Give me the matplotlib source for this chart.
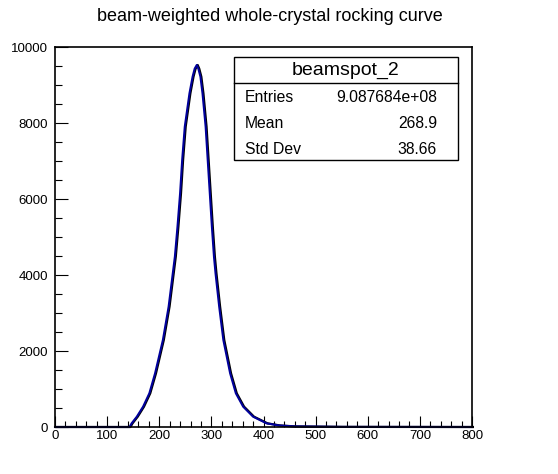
import numpy as np
import matplotlib
matplotlib.use("Agg")
import matplotlib.pyplot as plt
from matplotlib import ticker, transforms
from matplotlib.patches import Rectangle
from matplotlib.lines import Line2D

plt.rcParams['font.family'] = ['Liberation Sans', 'DejaVu Sans']

# values
angle = [0, 100, 143, 147, 157, 169, 181, 192, 207, 218, 226, 230, 235, 240,
         244, 249, 258, 264, 268, 272, 275, 279, 283, 289, 293, 297, 301, 305,
         308, 315, 323, 336, 347, 361, 380, 406, 430, 460, 550, 800]
counts = [0, 0, 0, 96, 272, 535, 886, 1412, 2289, 3167, 4044, 4482, 5272, 6149,
          7026, 7904, 8781, 9219, 9430, 9526, 9430, 9219, 8781, 7904, 7026, 6149,
          5272, 4482, 4044, 3167, 2289, 1412, 886, 535, 272, 96, 40, 15, 3, 0]

title = "beam-weighted whole-crystal rocking curve"
stats_name = "beamspot_2"
stats_rows = [("Entries", "9.087684e+08"), ("Mean", "268.9"), ("Std Dev", "38.66")]

W, H = 558, 474


def fx(px):
    return px / W


def fy(py):
    return 1 - py / H


fig = plt.figure(figsize=(W / 100, H / 100), dpi=100)
ax = fig.add_axes([fx(55), fy(427), 417 / W, 380 / H])

shift = transforms.offset_copy(ax.transData, fig=fig, x=0.9, y=0, units='dots')
ax.plot(angle, counts, color='black', lw=1.6, transform=shift, clip_on=False)
ax.plot(angle, counts, color='#00009c', lw=1.5, clip_on=False)

ax.set_xlim(0, 800)
ax.set_ylim(0, 10000)
ax.xaxis.set_major_locator(ticker.MultipleLocator(100))
ax.xaxis.set_minor_locator(ticker.MultipleLocator(20))
ax.yaxis.set_major_locator(ticker.MultipleLocator(2000))
ax.yaxis.set_minor_locator(ticker.MultipleLocator(500))

ax.tick_params(axis='both', which='both', direction='in', top=False, right=False,
               width=0.8, labelsize=9.5)
ax.tick_params(axis='y', which='major', length=9.4, pad=5)
ax.tick_params(axis='y', which='minor', length=4.8)
ax.tick_params(axis='x', which='major', length=7.7, pad=2.5)
ax.tick_params(axis='x', which='minor', length=4.1)
for s in ax.spines.values():
    s.set_linewidth(1.2)

fig.text(fx(269.5), fy(21), title, fontsize=13, ha='center', va='baseline')

# stats box
fig.add_artist(Rectangle((fx(234), fy(160)), (458 - 234) / W, (160 - 57) / H,
                         transform=fig.transFigure, facecolor='white',
                         edgecolor='black', lw=1.0))
fig.add_artist(Line2D([fx(234), fx(458)], [fy(83), fy(83)],
                      transform=fig.transFigure, color='black', lw=1.0))
fig.text(fx(346), fy(70.5), stats_name, fontsize=14, ha='center', va='center')
for i, (lab, val) in enumerate(stats_rows):
    yy = fy(98 + 26 * i)
    fig.text(fx(245), yy, lab, fontsize=11.3, ha='left', va='center')
    fig.text(fx(437), yy, val, fontsize=11.3, ha='right', va='center')

fig.savefig("out.png", dpi=100)
